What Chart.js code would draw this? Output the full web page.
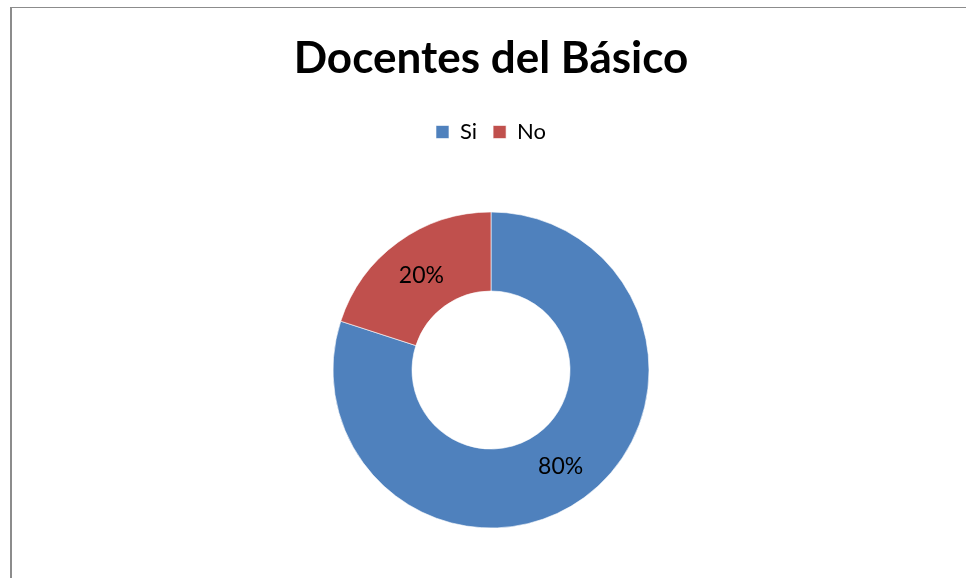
<!DOCTYPE html>
<html>
<head>
<meta charset="utf-8">
<script src="https://cdn.jsdelivr.net/npm/chart.js@4"></script>
<style>
  body { margin: 0; background: #fff; }
  #wrap { position: relative; width: 966px; height: 578px; }
</style>
</head>
<body>
<div id="wrap"><canvas id="docentesChart" width="966" height="578"></canvas></div>
<script>
const labels = ['Si', 'No'];
const valores = [80, 20];
const colores = ['#4F81BD', '#C0504D'];

// marco gris (arriba e izquierda)
const marco = {
  id: 'marco',
  beforeDraw(chart) {
    const ctx = chart.ctx;
    ctx.save();
    ctx.fillStyle = '#8c8c8c';
    ctx.fillRect(10, 7, 956, 1);
    ctx.fillRect(10, 7, 2, 571);
    ctx.restore();
  }
};

// etiquetas de porcentaje en el centro de cada sector
const etiquetas = {
  id: 'etiquetas',
  afterDatasetsDraw(chart) {
    const ctx = chart.ctx;
    const meta = chart.getDatasetMeta(0);
    ctx.save();
    ctx.font = '23px Lato, "Open Sans", sans-serif';
    ctx.fillStyle = '#000';
    ctx.textAlign = 'center';
    ctx.textBaseline = 'middle';
    meta.data.forEach((arc, i) => {
      const p = arc.tooltipPosition();
      ctx.fillText(valores[i] + '%', p.x, p.y + 1);
    });
    ctx.restore();
  }
};

const ctx = document.getElementById('docentesChart').getContext('2d');
const docentesChart = new Chart(ctx, {
  type: 'doughnut',
  data: {
    labels: labels,
    datasets: [{
      data: valores,
      backgroundColor: colores,
      borderColor: 'rgba(255,255,255,0.6)',
      borderWidth: 1
    }]
  },
  options: {
    responsive: false,
    animation: false,
    radius: 158,
    cutout: '50%',
    layout: { padding: { left: 16, right: 0, top: 0, bottom: 34 } },
    plugins: {
      title: {
        display: true,
        text: 'Docentes del Básico',
        color: '#000',
        font: { family: 'Lato, "Open Sans", sans-serif', size: 44, weight: 'bold', lineHeight: 1 },
        padding: { top: 37, bottom: 24 }
      },
      // separador entre la leyenda y el gráfico
      subtitle: {
        display: true,
        text: ' ',
        weight: 500,
        font: { size: 1, lineHeight: 1 },
        padding: { top: 0, bottom: 42 }
      },
      legend: {
        position: 'top',
        labels: {
          boxWidth: 13,
          boxHeight: 13,
          padding: 16,
          color: '#000',
          font: { family: 'Lato, "Open Sans", sans-serif', size: 22 }
        }
      },
      tooltip: { enabled: false }
    }
  },
  plugins: [marco, etiquetas]
});
</script>
</body>
</html>
